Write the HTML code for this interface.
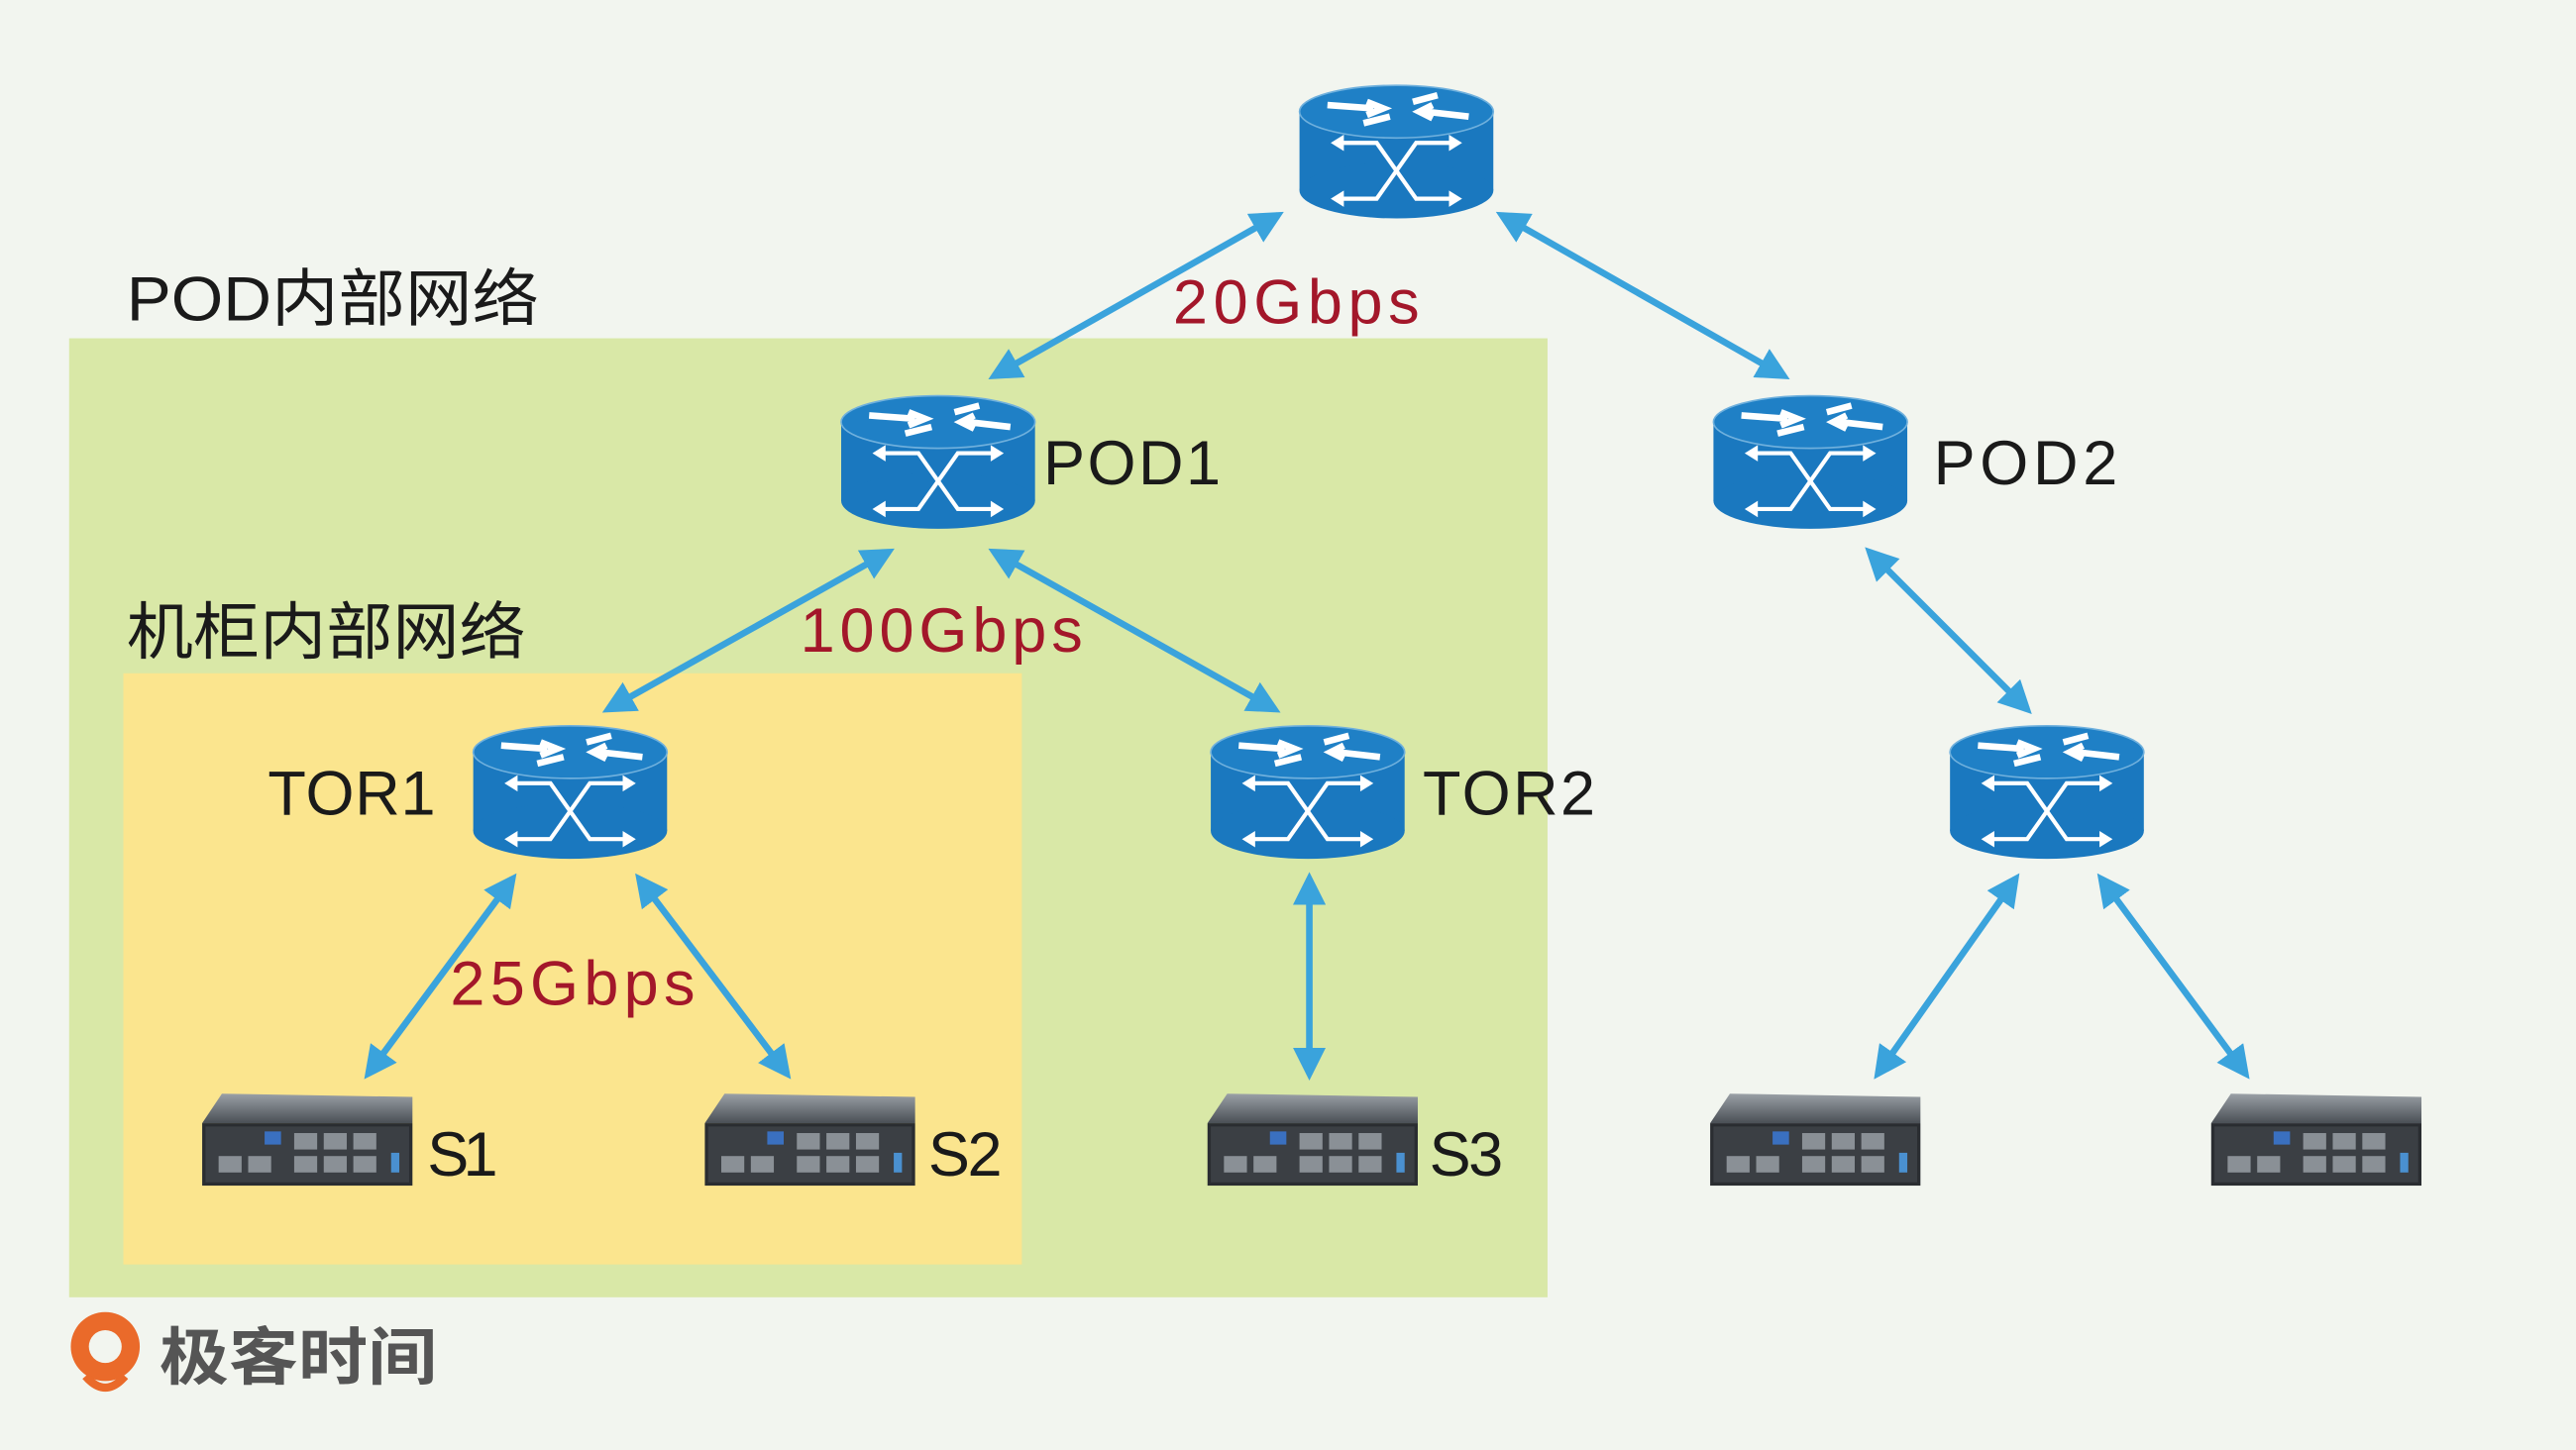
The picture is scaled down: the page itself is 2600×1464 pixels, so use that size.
<!DOCTYPE html>
<html><head><meta charset="utf-8"><style>
html,body{margin:0;padding:0;background:#f2f5ef;}
svg{display:block}
text{font-family:"Liberation Sans","Noto Sans CJK SC",sans-serif;}
</style></head><body>
<svg width="2600" height="1464" viewBox="0 0 1568 883" xmlns="http://www.w3.org/2000/svg">
<defs>
<marker id="ah" viewBox="0 0 10 10" refX="8" refY="5" markerWidth="5" markerHeight="5" orient="auto-start-reverse" markerUnits="strokeWidth">
<path d="M0,0 L10,5 L0,10 z" fill="#3aa3dc"/></marker>
<g id="rt">
<rect x="-59" y="-24" width="118" height="48" fill="#1a78bf"/>
<ellipse cx="0" cy="24" rx="59" ry="17" fill="#1a78bf"/>
<ellipse cx="0" cy="-24" rx="59" ry="16" fill="#1f80c6" stroke="#6fb0dd" stroke-width="1"/>
<path d="M-42,-28 L-14,-26 M-18,-30 L-8,-26 L-18,-22" stroke="#fff" stroke-width="4" fill="none"/>
<path d="M-20,-17 L-4,-21" stroke="#fff" stroke-width="4"/>
<path d="M10,-30 L25,-34" stroke="#fff" stroke-width="4"/>
<path d="M44,-21 L18,-24 M22,-28 L14,-24 L22,-20" stroke="#fff" stroke-width="4" fill="none"/>
<path d="M-36,-5 L-12,-5 L12,29 L36,29 M-36,29 L-12,29 L12,-5 L36,-5" stroke="#fff" stroke-width="2.5" fill="none"/>
<path d="M-40,-5 l8,-5 v10z M-40,29 l8,-5 v10z M40,-5 l-8,-5 v10z M40,29 l-8,-5 v10z" fill="#fff"/>
</g>
<linearGradient id="sg" x1="0" y1="0" x2="0" y2="1"><stop offset="0" stop-color="#9aa0a6"/><stop offset="1" stop-color="#4a4f55"/></linearGradient>
<g id="sv">
<path d="M12,0 L128,2 L128,18 L0,18 z" fill="url(#sg)"/>
<rect x="0" y="18" width="128" height="38" fill="#2a2d31"/>
<rect x="2" y="20" width="124" height="34" fill="#3b3f44"/>
<g fill="#8a9096">
<rect x="10" y="38" width="14" height="10"/><rect x="28" y="38" width="14" height="10"/>
<rect x="56" y="24" width="14" height="10"/><rect x="74" y="24" width="14" height="10"/><rect x="92" y="24" width="14" height="10"/>
<rect x="56" y="38" width="14" height="10"/><rect x="74" y="38" width="14" height="10"/><rect x="92" y="38" width="14" height="10"/>
</g>
<rect x="38" y="23" width="10" height="8" fill="#3a70c0"/>
<rect x="115" y="36" width="5" height="12" fill="#4a90d0"/>
</g>
</defs>
<rect x="0" y="0" width="1568" height="883" fill="#f2f5ef"/>
<rect x="42" y="206" width="900" height="584" fill="#d9e8a7"/>
<rect x="75" y="410" width="547" height="360" fill="#fbe58e"/>
<text x="77" y="195" font-size="38" fill="#1a1a1a" textLength="251" lengthAdjust="spacingAndGlyphs">POD内部网络</text>
<text x="77" y="398" font-size="38" fill="#1a1a1a" textLength="243" lengthAdjust="spacingAndGlyphs">机柜内部网络</text>
<g stroke="#3aa3dc" stroke-width="4" marker-start="url(#ah)" marker-end="url(#ah)">
<line x1="778" y1="131" x2="605" y2="229"/>
<line x1="914" y1="131" x2="1086" y2="229"/>
<line x1="541" y1="336" x2="370" y2="432"/>
<line x1="605" y1="336" x2="776" y2="432"/>
<line x1="1138" y1="336" x2="1234" y2="432"/>
<line x1="312" y1="535" x2="224" y2="654"/>
<line x1="389" y1="535" x2="479" y2="654"/>
<line x1="797" y1="535" x2="797" y2="654"/>
<line x1="1227" y1="535" x2="1143" y2="654"/>
<line x1="1279" y1="535" x2="1367" y2="654"/>
</g>
<use href="#rt" x="850" y="92"/>
<use href="#rt" x="571" y="281"/>
<use href="#rt" x="1102" y="281"/>
<use href="#rt" x="347" y="482"/>
<use href="#rt" x="796" y="482"/>
<use href="#rt" x="1246" y="482"/>
<use href="#sv" x="123" y="666"/>
<use href="#sv" x="429" y="666"/>
<use href="#sv" x="735" y="666"/>
<use href="#sv" x="1041" y="666"/>
<use href="#sv" x="1346" y="666"/>
<g font-size="38" fill="#1a1a1a" lengthAdjust="spacingAndGlyphs">
<text x="635" y="295" textLength="108">POD1</text>
<text x="1177" y="295" textLength="112">POD2</text>
<text x="163" y="496" textLength="102">TOR1</text>
<text x="866" y="496" textLength="105">TOR2</text>
<text x="260" y="716" textLength="43">S1</text>
<text x="565" y="716" textLength="45">S2</text>
<text x="870" y="716" textLength="45">S3</text>
</g>
<g font-size="38" fill="#a3172a" lengthAdjust="spacingAndGlyphs">
<text x="714" y="197" textLength="150">20Gbps</text>
<text x="487" y="397" textLength="172">100Gbps</text>
<text x="274" y="612" textLength="149">25Gbps</text>
</g>
<circle cx="64" cy="820" r="21" fill="#ea6a2a"/>
<circle cx="64" cy="820" r="10" fill="#f2f5ef"/>
<path d="M52,838 Q64,852 76,838" stroke="#ea6a2a" stroke-width="5" fill="none"/>
<text x="97" y="840" font-size="38" font-weight="bold" fill="#555" textLength="169" lengthAdjust="spacingAndGlyphs">极客时间</text>
</svg>
</body></html>
